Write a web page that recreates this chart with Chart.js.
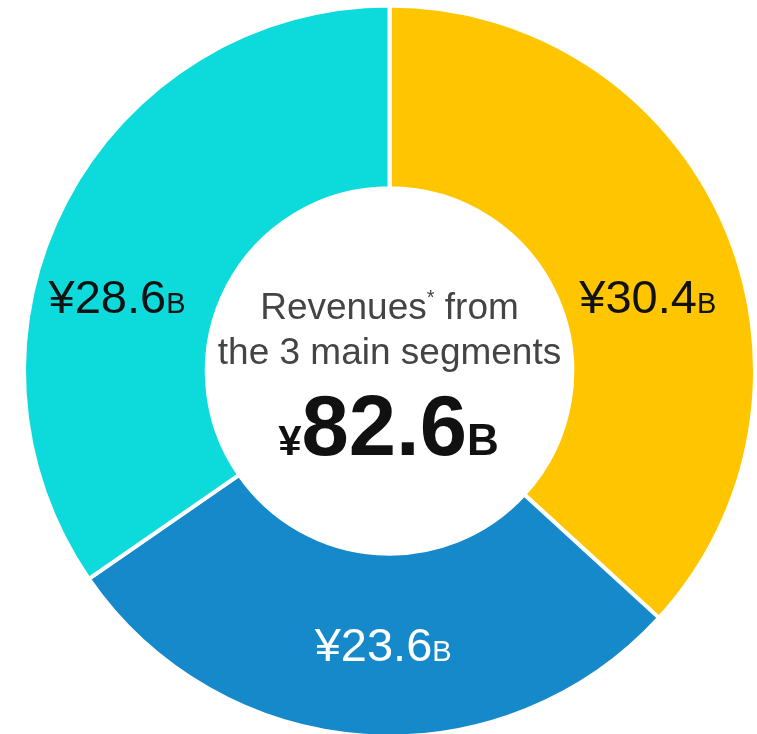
<!DOCTYPE html>
<html>
<head>
<meta charset="utf-8">
<script src="https://cdn.jsdelivr.net/npm/chart.js@4.4.0/dist/chart.umd.min.js"></script>
<style>
  html, body { margin: 0; padding: 0; background: #fff; overflow: hidden; }
  #wrap { width: 757px; height: 742px; }
</style>
</head>
<body>
<div id="wrap"><canvas id="revenue" width="757" height="742"></canvas></div>
<script>
// data
const segments = ['Segment 1', 'Segment 2', 'Segment 3']
const revenues = [30.4, 23.6, 28.6] // ¥ billions
const totalRevenue = 82.6
const centerLines = ['Revenues', 'the 3 main segments']

const FONT = "Arial, 'Liberation Sans', sans-serif"
const colors = ['#FFC600', '#1589C9', '#0DDBDB']
const labelColors = ['#111', '#fff', '#111']
// nudge each value label off the arc's mid angle (degrees) and mid radius (factor)
const labelNudge = [
  {deg: 7.8, r: 0.98},
  {deg: -2.6, r: 1.0},
  {deg: -12.5, r: 1.03}
]

// draw pieces of text side by side, centred on x, sharing one baseline
function drawRun(ctx, parts, x, y) {
  let total = 0
  parts.forEach(p => {
    ctx.font = p.font
    p.w = ctx.measureText(p.text).width
    total += p.w
  })
  let cx = x - total / 2
  ctx.textAlign = 'left'
  ctx.textBaseline = 'alphabetic'
  parts.forEach(p => {
    ctx.font = p.font
    ctx.fillStyle = p.color
    ctx.fillText(p.text, cx, y + (p.dy || 0))
    cx += p.w
  })
}

const textPlugin = {
  id: 'donutText',
  afterDatasetsDraw(chart) {
    const ctx = chart.ctx
    const meta = chart.getDatasetMeta(0)
    const arc0 = meta.data[0]
    const cx = arc0.x
    const cy = arc0.y

    ctx.save()
    // value labels on the ring
    meta.data.forEach((arc, i) => {
      const p = arc.getProps(['startAngle', 'endAngle', 'innerRadius', 'outerRadius'])
      const mid = (p.startAngle + p.endAngle) / 2 + labelNudge[i].deg * Math.PI / 180
      const r = (p.innerRadius + p.outerRadius) / 2 * labelNudge[i].r
      const x = cx + Math.cos(mid) * r
      const y = cy + Math.sin(mid) * r + 16
      const c = labelColors[i]
      drawRun(ctx, [
        {text: '¥' + revenues[i].toFixed(1), font: '47px ' + FONT, color: c},
        {text: 'B', font: '29px ' + FONT, color: c}
      ], x, y)
    })

    // centre text
    drawRun(ctx, [
      {text: centerLines[0], font: '37px ' + FONT, color: '#444'},
      {text: '*', font: '20px ' + FONT, color: '#444', dy: -15},
      {text: ' from', font: '37px ' + FONT, color: '#444'}
    ], cx, cy - 52)
    drawRun(ctx, [
      {text: centerLines[1], font: '37px ' + FONT, color: '#444'}
    ], cx, cy - 7)
    drawRun(ctx, [
      {text: '¥', font: 'bold 42px ' + FONT, color: '#111'},
      {text: totalRevenue.toFixed(1), font: 'bold 85px ' + FONT, color: '#111'},
      {text: 'B', font: 'bold 44px ' + FONT, color: '#111'}
    ], cx - 1, cy + 84)
    ctx.restore()
  }
}

new Chart(document.getElementById('revenue'), {
  type: 'doughnut',
  data: {
    labels: segments,
    datasets: [{
      data: revenues,
      backgroundColor: colors,
      borderColor: '#fff',
      borderWidth: 4,
      hoverOffset: 0
    }]
  },
  options: {
    responsive: false,
    animation: false,
    radius: 365.5,
    cutout: '50%',
    layout: {padding: {left: 22}},
    plugins: {
      legend: {display: false},
      tooltip: {enabled: false}
    }
  },
  plugins: [textPlugin]
})
</script>
</body>
</html>
